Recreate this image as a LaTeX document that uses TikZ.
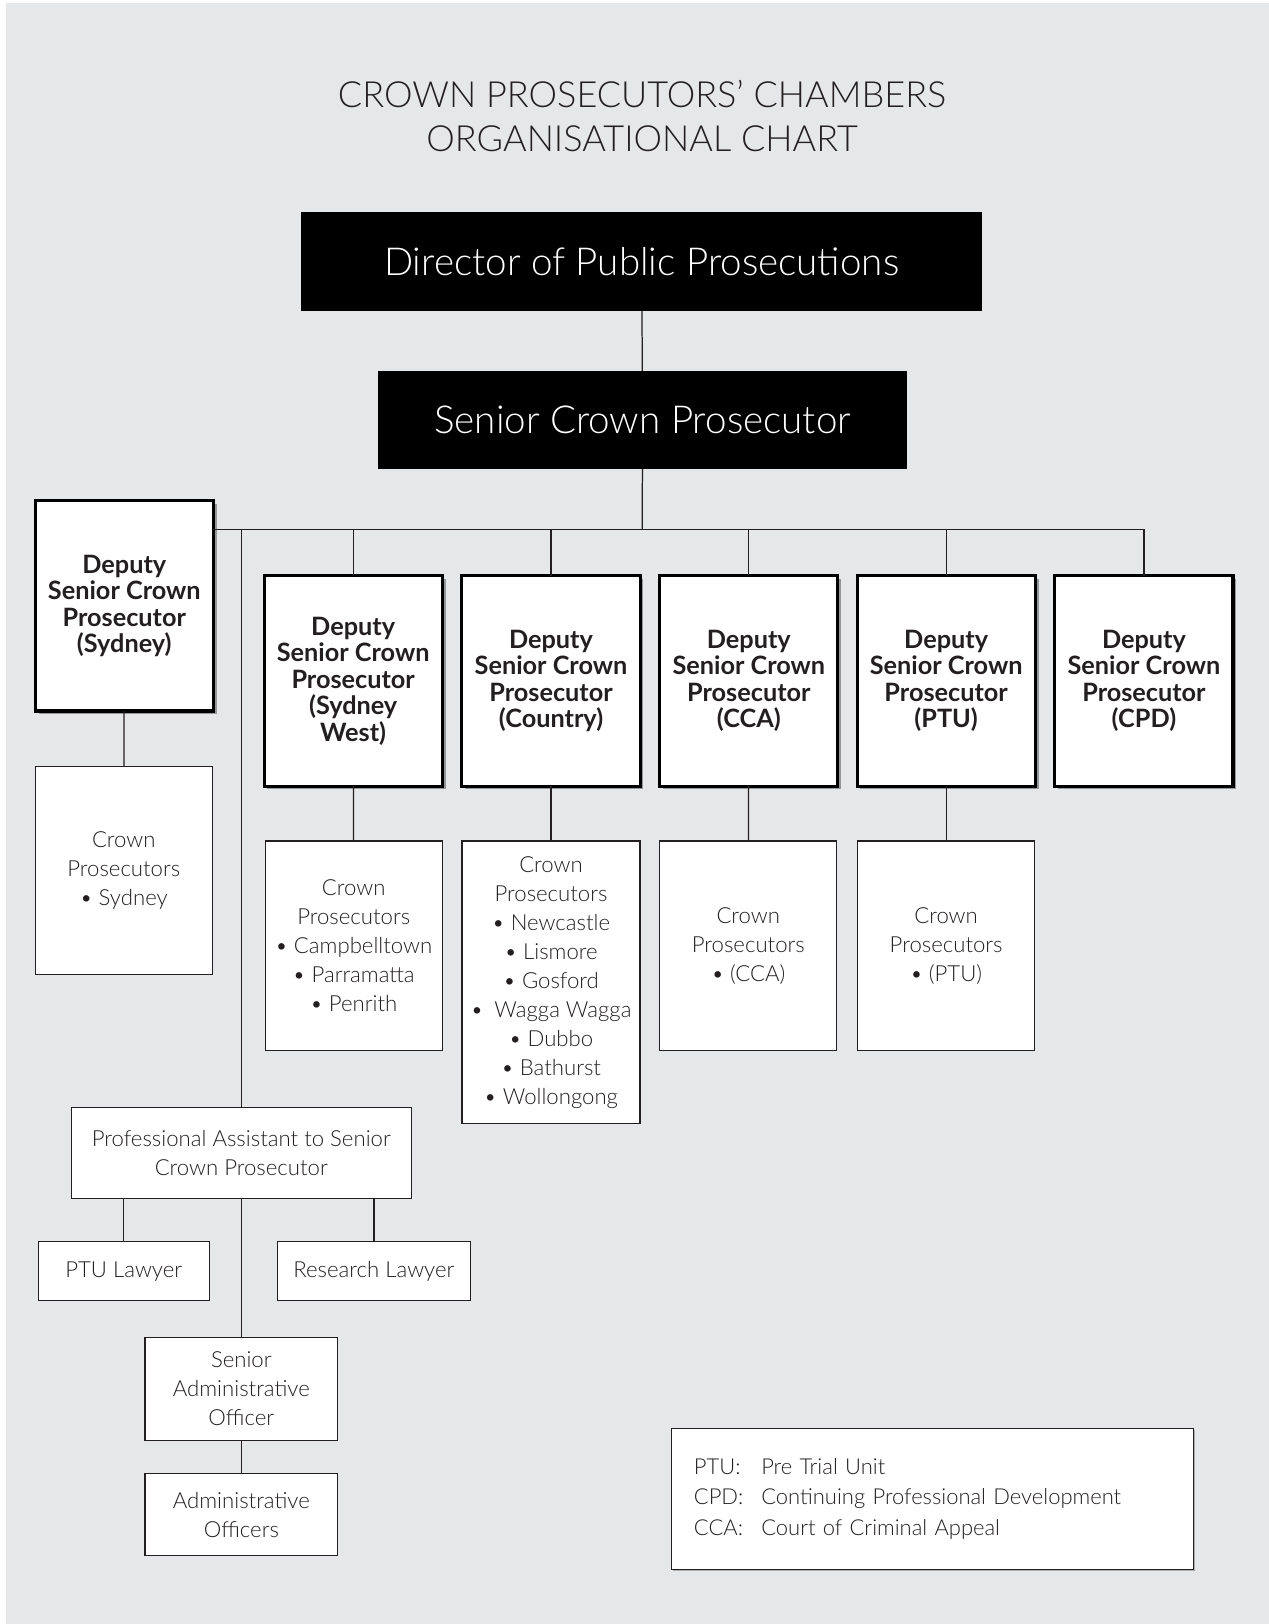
\documentclass[tikz,border=0pt]{standalone}
\usepackage{fontspec}
\setmainfont{Lato}[UprightFont=* Light, BoldFont=* Bold]
\usetikzlibrary{shadows}
\definecolor{bg}{HTML}{E6E7E8}
\definecolor{ink}{HTML}{231F20}
\begin{document}
\begin{tikzpicture}[x=0.5pt,y=-0.5pt,
  every node/.style={inner sep=0pt, outer sep=0pt, text=ink},
  conn/.style={draw=ink, line width=0.6pt},
  topbox/.style={fill=black, text=white, font=\fontsize{18.6}{20}\selectfont},
  deputy/.style={draw=black, line width=1.5pt, fill=white, align=center,
    minimum width=86pt, minimum height=101.5pt,
    font=\bfseries\fontsize{12.2}{12.8}\selectfont,
    drop shadow={shadow xshift=1.6pt, shadow yshift=-1.6pt, fill=black, opacity=0.35}},
  sub/.style={draw=ink, line width=0.6pt, fill=white, align=center,
    font=\fontsize{10.7}{14}\selectfont},
]
\fill[white] (0,0) rectangle (1225,1568);
\fill[bg] (5.8,2.9) rectangle (1225,1568);
\useasboundingbox (0,0) rectangle (1225,1568);

% title
\node[align=center, font=\fontsize{17.4}{21.5}\selectfont] (title) at (620,112)
  {CROWN PROSECUTORS’ CHAMBERS\\ORGANISATIONAL CHART};

% top boxes
\node[topbox, minimum width=328.5pt, minimum height=47.5pt] (dpp) at (619.5,252.5) {Director of Public Prosecutions};
\node[topbox, minimum width=255.5pt, minimum height=47.5pt] (scp) at (620.5,405.5) {Senior Crown Prosecutor};

% deputies
\node[deputy] (dsyd) at (120,585) {Deputy\\Senior Crown\\Prosecutor\\(Sydney)};
\node[deputy] (dsw) at (341,657.5) {Deputy\\Senior Crown\\Prosecutor\\(Sydney\\West)};
\node[deputy] (dctry) at (532,657.5) {Deputy\\Senior Crown\\Prosecutor\\(Country)};
\node[deputy] (dcca) at (723,657.5) {Deputy\\Senior Crown\\Prosecutor\\(CCA)};
\node[deputy] (dptu) at (913.5,657.5) {Deputy\\Senior Crown\\Prosecutor\\(PTU)};
\node[deputy] (dcpd) at (1104.5,657.5) {Deputy\\Senior Crown\\Prosecutor\\(CPD)};

% crown prosecutor boxes
\node[sub, minimum width=85.5pt, minimum height=100.5pt] (csyd) at (119.5,840.5) {Crown\\Prosecutors\\• Sydney};
\node[sub, minimum width=85.5pt, minimum height=101pt] (csw) at (341.5,913) {Crown\\Prosecutors\\• Campbelltown\\• Parramatta\\• Penrith};
\node[sub, minimum width=86pt, minimum height=136.5pt] (cctry) at (532,948.5) {Crown\\Prosecutors\\• Newcastle\\• Lismore\\• Gosford\\•\enspace Wagga Wagga\\• Dubbo\\• Bathurst\\• Wollongong};
\node[sub, minimum width=85.5pt, minimum height=101pt] (ccca) at (722.5,913) {Crown\\Prosecutors\\• (CCA)};
\node[sub, minimum width=85.5pt, minimum height=101pt] (cptu) at (913.5,913) {Crown\\Prosecutors\\• (PTU)};

% support staff
\node[sub, minimum width=164pt, minimum height=44pt] (pa) at (233,1113) {Professional Assistant to Senior\\Crown Prosecutor};
\node[sub, minimum width=82.5pt, minimum height=28.5pt] (ptul) at (119.5,1227.5) {PTU Lawyer};
\node[sub, minimum width=93pt, minimum height=28.5pt] (resl) at (361,1227.5) {Research Lawyer};
\node[sub, minimum width=93pt, minimum height=50pt] (sao) at (233,1341) {Senior\\Administrative\\Officer};
\node[sub, minimum width=93pt, minimum height=39.5pt] (ao) at (233,1462.5) {Administrative\\Officers};

% legend
\node[sub, align=left, text width=230pt, inner xsep=11pt, minimum height=68pt,
  font=\fontsize{10.6}{14.8}\selectfont,
  drop shadow={shadow xshift=0.8pt, shadow yshift=-0.8pt, fill=black, opacity=0.25}] (legend) at (900,1447)
  {\makebox[32.5pt][l]{PTU:}Pre Trial Unit\\
   \makebox[32.5pt][l]{CPD:}Continuing Professional Development\\
   \makebox[32.5pt][l]{CCA:}Court of Criminal Appeal};

% connectors
\coordinate (bus) at (620,511);
\draw[conn] (dpp) -- (scp);
\draw[conn] (scp) -- (bus);
\draw[conn] (dsyd.east |- bus) -- (dcpd.north |- bus);
\foreach \n in {dsw,dctry,dcca,dptu,dcpd} \draw[conn] (\n.north |- bus) -- (\n.north);
\draw[conn] (pa.north |- bus) -- (pa.north);
\draw[conn] (dsyd) -- (csyd);
\draw[conn] (dsw) -- (csw);
\draw[conn] (dctry) -- (cctry);
\draw[conn] (dcca) -- (ccca);
\draw[conn] (dptu) -- (cptu);
\draw[conn] (ptul.north |- pa.south) -- (ptul.north);
\draw[conn] (resl.north |- pa.south) -- (resl.north);
\draw[conn] (pa) -- (sao);
\draw[conn] (sao) -- (ao);
\end{tikzpicture}
\end{document}
